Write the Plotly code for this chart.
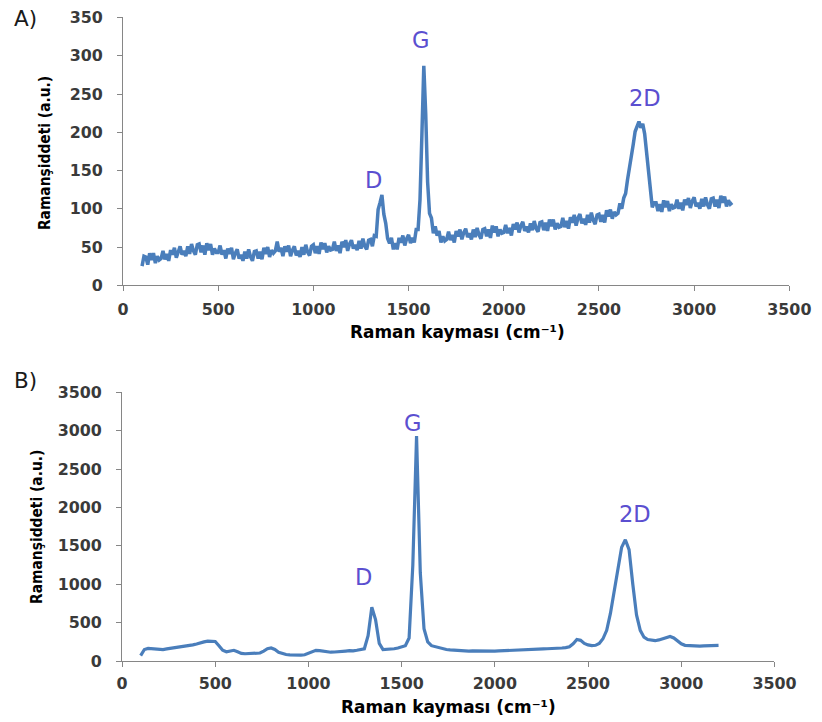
import plotly.graph_objects as go

# Panel A: wavenumbers (cm^-1), sampled every 10 cm^-1
shift_a = list(range(100, 3201, 10))
intensity_a = [
    25, 38, 37, 27, 42, 33, 42, 29, 38, 33,
    35, 45, 34, 41, 32, 46, 40, 49, 36, 45,
    51, 40, 45, 38, 51, 41, 54, 45, 40, 53,
    54, 43, 52, 40, 55, 46, 54, 40, 48, 43,
    43, 52, 40, 46, 35, 48, 41, 49, 34, 42,
    47, 35, 40, 32, 44, 35, 47, 37, 32, 44,
    45, 35, 44, 34, 49, 41, 50, 37, 46, 42,
    45, 57, 44, 49, 38, 51, 44, 52, 38, 46,
    51, 39, 45, 37, 50, 40, 53, 43, 39, 51,
    53, 42, 51, 41, 56, 47, 55, 43, 51, 46,
    47, 57, 45, 52, 42, 57, 50, 59, 45, 54,
    59, 48, 53, 46, 58, 48, 61, 51, 47, 59,
    60, 51, 65, 64, 99, 108, 118, 93, 81, 61,
    55, 62, 47, 55, 47, 62, 56, 65, 52, 61,
    66, 55, 62, 56, 73, 73, 112, 197, 287, 224,
    135, 94, 88, 68, 77, 65, 71, 56, 64, 58,
    60, 70, 59, 66, 56, 71, 64, 73, 60, 69,
    74, 63, 68, 60, 73, 63, 75, 66, 61, 73,
    74, 64, 73, 62, 78, 69, 77, 64, 73, 68,
    69, 79, 68, 75, 65, 80, 73, 82, 69, 78,
    83, 71, 77, 69, 81, 72, 84, 74, 70, 82,
    83, 72, 82, 71, 86, 77, 86, 73, 81, 76,
    77, 88, 76, 84, 74, 89, 82, 92, 78, 88,
    93, 81, 87, 79, 92, 82, 95, 85, 80, 92,
    93, 83, 92, 82, 98, 90, 99, 87, 96, 92,
    94, 107, 100, 114, 120, 138, 152, 172, 184, 201,
    208, 214, 206, 211, 198, 172, 150, 122, 102, 108,
    108, 97, 106, 96, 111, 102, 110, 97, 106, 101,
    102, 112, 100, 108, 98, 112, 105, 114, 101, 110,
    115, 103, 108, 100, 113, 103, 115, 105, 100, 113,
    114, 103, 112, 101, 117, 108, 116, 103, 111, 106,
    108,
]

# Panel B: wavenumbers (cm^-1), sampled every 20 cm^-1
shift_b = list(range(100, 3201, 20))
intensity_b = [
    70, 150, 165, 160, 150, 155, 150, 158, 165, 170,
    175, 182, 190, 198, 210, 222, 240, 250, 260, 262,
    255, 200, 140, 120, 125, 140, 120, 100, 95, 95,
    95, 98, 105, 130, 160, 170, 150, 115, 95, 85,
    80, 78, 75, 78, 82, 100, 125, 140, 135, 125,
    120, 115, 118, 125, 128, 130, 135, 132, 140, 150,
    160, 330, 700, 540, 230, 150, 150, 155, 160, 170,
    180, 200, 300, 1250, 2930, 1150, 420, 250, 200, 185,
    170, 160, 150, 145, 140, 138, 135, 133, 130, 132,
    130, 128, 130, 127, 125, 130, 132, 135, 138, 140,
    142, 145, 148, 150, 150, 152, 155, 155, 158, 160,
    160, 162, 165, 170, 175, 185, 225, 280, 270, 230,
    210, 200, 205, 230, 290, 400, 620, 900, 1230, 1480,
    1580, 1450, 1000, 600, 400, 310, 280, 270, 265, 275,
    290, 310, 320, 300, 260, 225, 205, 200, 195, 198,
    195, 198, 200, 197, 202, 205,
]

# Peak labels: (text, x, y)
labels_a = [("D", 1315, 138), ("G", 1562, 321), ("2D", 2740, 245)]
labels_b = [("D", 1298, 1100), ("G", 1558, 3100), ("2D", 2750, 1912)]

x_ticks = [0, 500, 1000, 1500, 2000, 2500, 3000, 3500]
y_ticks_a = [0, 50, 100, 150, 200, 250, 300, 350]
y_ticks_b = [0, 500, 1000, 1500, 2000, 2500, 3000, 3500]

# Page geometry (the capture shows the page slightly reduced and offset)
W, H = 843, 740
S, OX, OY = 0.975, 3.0, 9.5


def fx(x):
    return (x - OX) / S / W


def fy(y):
    return 1 - (y - OY) / S / H


def fs(size):
    return size / S


line_color = "#4A7EBB"
axis_color = "#868686"
tick_font = dict(family="DejaVu Sans, sans-serif", size=fs(15.5), color="#3a3a3a",
                 weight="bold")

fig = go.Figure()
fig.add_trace(go.Scatter(x=shift_a, y=intensity_a, mode="lines",
                         line=dict(color=line_color, width=3.5),
                         xaxis="x", yaxis="y", showlegend=False))
fig.add_trace(go.Scatter(x=shift_b, y=intensity_b, mode="lines",
                         line=dict(color=line_color, width=3.2),
                         xaxis="x2", yaxis="y2", showlegend=False))

axis_common = dict(showgrid=False, zeroline=False, showline=True,
                   linecolor=axis_color, linewidth=1, ticks="outside",
                   ticklen=5, tickcolor=axis_color, tickfont=tick_font)

fig.update_layout(
    width=W, height=H,
    margin=dict(l=0, r=0, t=0, b=0),
    paper_bgcolor="white", plot_bgcolor="white",
    xaxis=dict(domain=[fx(121), fx(793)], range=[0, 3500],
               tickvals=x_ticks, anchor="y", ticklabelstandoff=5, **axis_common),
    yaxis=dict(domain=[fy(286), fy(18)], range=[0, 350],
               tickvals=y_ticks_a, anchor="x", ticklabelstandoff=11, **axis_common),
    xaxis2=dict(domain=[fx(120), fx(778)], range=[0, 3500],
                tickvals=x_ticks, anchor="y2", ticklabelstandoff=3, **axis_common),
    yaxis2=dict(domain=[fy(662), fy(393)], range=[0, 3500],
                tickvals=y_ticks_b, anchor="x2", ticklabelstandoff=11, **axis_common),
)

ann = []
label_font = dict(family="DejaVu Sans, sans-serif", size=fs(22), color="#5B4FD0")
for t, x, y in labels_a:
    ann.append(dict(text=t, x=x, y=y, xref="x", yref="y", showarrow=False,
                    xanchor="center", yanchor="middle", font=label_font))
for t, x, y in labels_b:
    ann.append(dict(text=t, x=x, y=y, xref="x2", yref="y2", showarrow=False,
                    xanchor="center", yanchor="middle", font=label_font))

panel_font = dict(family="DejaVu Sans, sans-serif", size=fs(21), color="#1a1a1a")
ann.append(dict(text="A)", x=fx(9), y=fy(19), xref="paper", yref="paper",
                xanchor="left", yanchor="middle", showarrow=False, font=panel_font))
ann.append(dict(text="B)", x=fx(9), y=fy(381), xref="paper", yref="paper",
                xanchor="left", yanchor="middle", showarrow=False, font=panel_font))

ytitle_font = dict(family="Liberation Sans Narrow, Arial Narrow, DejaVu Sans Condensed, sans-serif",
                   size=fs(15), color="black")
ann.append(dict(text="<b>Ramanşiddeti (a.u.)</b>", x=fx(43), y=fy(154),
                xref="paper", yref="paper", textangle=-90, showarrow=False,
                xanchor="center", yanchor="middle", font=ytitle_font))
ann.append(dict(text="<b>Ramanşiddeti (a.u.)</b>", x=fx(34), y=fy(528),
                xref="paper", yref="paper", textangle=-90, showarrow=False,
                xanchor="center", yanchor="middle", font=ytitle_font))

xtitle_font = dict(family="DejaVu Sans, sans-serif", size=fs(16.5), color="black")
ann.append(dict(text="<b>Raman kayması (cm⁻¹)</b>", x=fx(458), y=fy(333),
                xref="paper", yref="paper", showarrow=False,
                xanchor="center", yanchor="middle", font=xtitle_font))
ann.append(dict(text="<b>Raman kayması (cm⁻¹)</b>", x=fx(449), y=fy(708),
                xref="paper", yref="paper", showarrow=False,
                xanchor="center", yanchor="middle", font=xtitle_font))

fig.update_layout(annotations=ann)
fig.write_html(
    "out.html",
    config={"displayModeBar": False},
    post_script="document.body.style.margin='0';document.body.style.overflow='hidden';",
)
